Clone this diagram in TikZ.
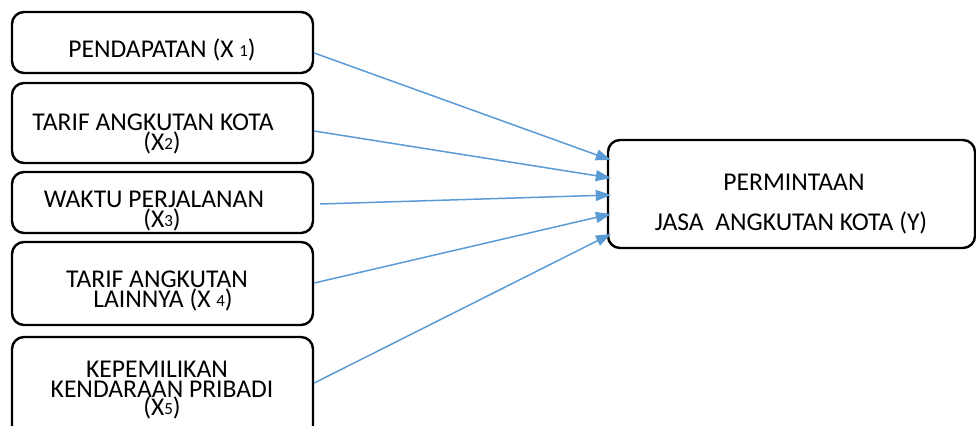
\documentclass[tikz,border=0pt]{standalone}
\usepackage{fontspec}
\setmainfont{Carlito}
\usetikzlibrary{arrows.meta}

\definecolor{arrowblue}{HTML}{5B9BD5}
\newcommand{\subnum}[1]{\raisebox{0.3pt}{\fontsize{8.5}{8.5}\selectfont #1}}
\newcommand{\boxfont}{\fontsize{12.8}{10}\selectfont\lineskiplimit=-20pt\relax}

\tikzset{
  varbox/.style={draw, rounded corners=6pt, line width=1.2pt, minimum width=150.5pt, inner sep=0pt},
  vartext/.style={anchor=base, align=center, inner sep=0pt, font=\boxfont},
  dep/.style={draw=arrowblue, line width=0.75pt, -{Triangle[length=7.5pt,width=5.5pt]}}
}

\begin{document}
\begin{tikzpicture}[x=0.5pt, y=-0.5pt]
\useasboundingbox (0,0) rectangle (976,425);

% Variables X
\node[varbox, minimum height=30.5pt] (x1) at (162.5,42.5) {};
\node[vartext] (lx1) at (162,57) {PENDAPATAN (X \subnum{1})};

\node[varbox, minimum height=40pt] (x2) at (162.5,123) {};
\node[vartext] (lx2) at (162,150) {TARIF ANGKUTAN KOTA\hspace*{9pt}\\(X\subnum{2})};

\node[varbox, minimum height=30.5pt] (x3) at (162.5,202.5) {};
\node[vartext] (lx3) at (162,227) {WAKTU PERJALANAN\hspace*{8pt}\\(X\subnum{3})};

\node[varbox, minimum height=41.5pt] (x4) at (162.5,283.5) {};
\node[vartext] (lx4) at (163,307) {TARIF ANGKUTAN\hspace*{6pt}\\LAINNYA (X \subnum{4})};

\node[varbox, minimum height=51.5pt] (x5) at (162.5,388.5) {};
\node[vartext] (lx5) at (162,415) {KEPEMILIKAN\hspace*{5pt}\\KENDARAAN PRIBADI\hspace*{7pt}\\[-1pt](X\subnum{5})};

% Variable Y
\node[varbox, minimum width=183.5pt, minimum height=54pt] (y) at (791.5,194) {};
\node[vartext] (ly) at (794,230) {PERMINTAAN\\[10pt]JASA\ \ ANGKUTAN KOTA (Y)\hspace*{3pt}};

% arrows
\foreach \s/\g/\a/\b in {x1/0/53/160, x2/0/131/178, x3/3/204/195, x4/0/283/214, x5/0/383/234}
  \draw[dep] ([xshift=\g pt]\s.east |- 0,\a) -- ([xshift=2pt]y.west |- 0,\b);

\end{tikzpicture}
\end{document}
